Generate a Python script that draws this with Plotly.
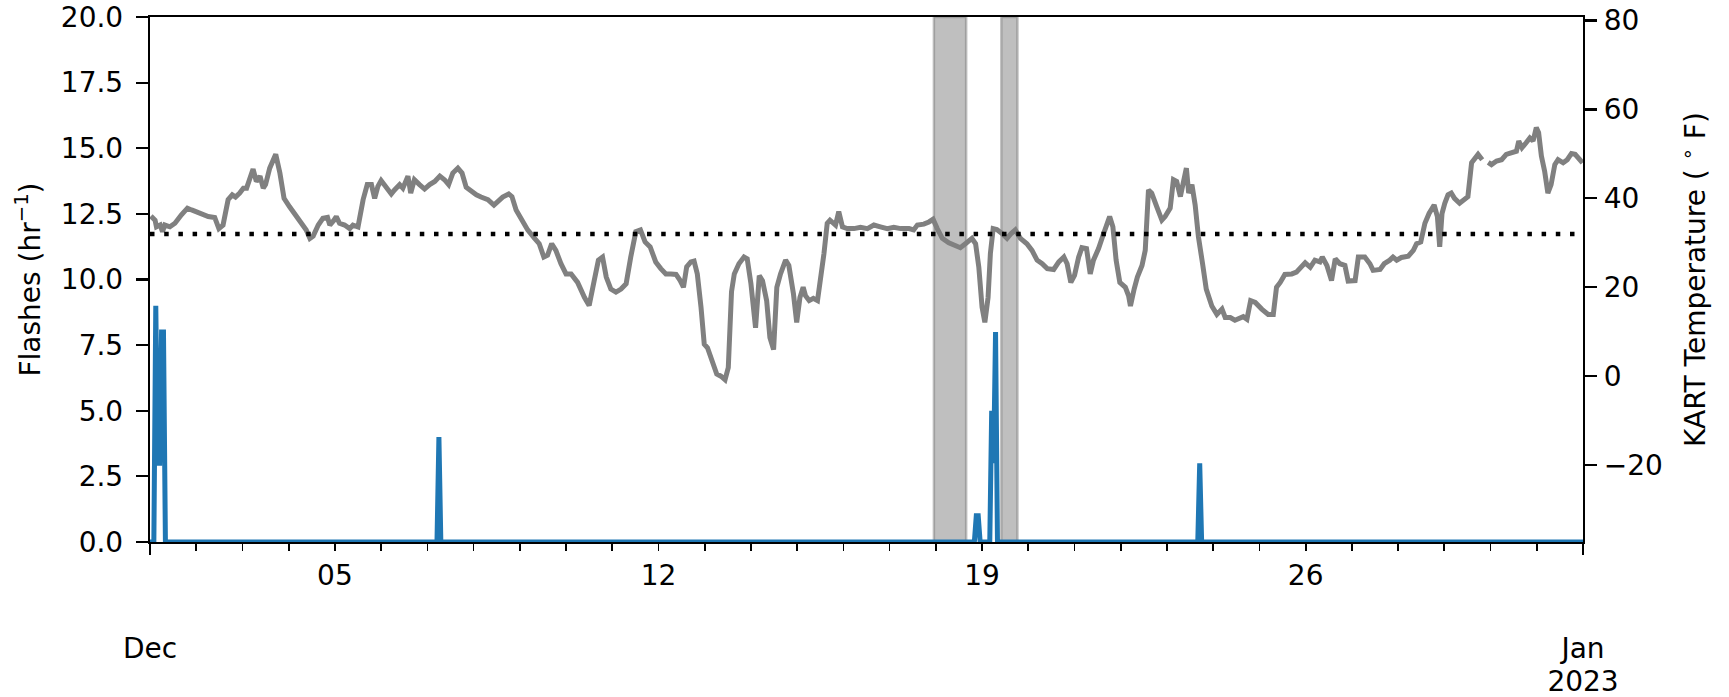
import pandas as pd
import plotly.graph_objects as go

START = pd.Timestamp("2022-12-01")
END = pd.Timestamp("2023-01-01")

# KART temperature (deg F); day = days since 2022-12-01 00:00
temp_day = [
    0.02, 0.11, 0.14, 0.22, 0.27, 0.32, 0.43, 0.54, 0.68, 0.81, 0.90, 1.01, 1.08, 1.15, 1.26, 1.40,
    1.49, 1.58, 1.69, 1.78, 1.85, 1.94, 2.02, 2.09, 2.14, 2.23, 2.30, 2.38, 2.45, 2.50, 2.59, 2.72,
    2.81, 2.90, 3.02, 3.13, 3.28, 3.38, 3.46, 3.53, 3.64, 3.74, 3.84, 3.89, 3.98, 4.03, 4.10, 4.21,
    4.32, 4.39, 4.50, 4.61, 4.70, 4.79, 4.86, 4.93, 5.00, 5.11, 5.22, 5.29, 5.40, 5.47, 5.58, 5.64,
    5.72, 5.83, 5.94, 6.05,
    6.16, 6.27, 6.37, 6.46, 6.55, 6.66, 6.75, 6.84, 6.95, 7.06, 7.16, 7.31, 7.44, 7.52, 7.63, 7.76,
    7.83, 7.92, 8.04, 8.17, 8.32, 8.42, 8.52, 8.60, 8.69, 8.78, 8.89, 9.00, 9.11, 9.25, 9.40, 9.50,
    9.61, 9.70, 9.79, 9.87, 9.97, 10.08, 10.19, 10.30, 10.40, 10.51, 10.61, 10.71, 10.82, 10.94,
    11.05, 11.16, 11.27, 11.38, 11.47, 11.54, 11.61, 11.70, 11.77, 11.84, 11.92, 11.99, 12.06,
    12.15, 12.26, 12.35, 12.44, 12.51,
    12.58, 12.64, 12.74, 12.85, 12.92, 13.00, 13.10, 13.18, 13.25, 13.34, 13.41, 13.49, 13.56,
    13.64, 13.75, 13.82, 13.92, 13.99, 14.06, 14.13, 14.18, 14.26, 14.35, 14.44, 14.51, 14.58,
    14.65, 14.71, 14.83, 14.90, 14.98, 15.08, 15.23, 15.37, 15.52, 15.66, 15.80, 15.95, 16.09,
    16.24, 16.42, 16.52, 16.60, 16.74, 16.85, 16.94, 17.03, 17.14, 17.28, 17.42, 17.53, 17.64,
    17.78, 17.86, 17.93, 18.00, 18.06, 18.13, 18.18, 18.24, 18.32, 18.43, 18.54, 18.63,
    18.72, 18.83, 18.97, 19.08, 19.19, 19.30, 19.41, 19.55, 19.66, 19.77, 19.84, 19.92, 20.00,
    20.09, 20.16, 20.26, 20.34, 20.41, 20.52, 20.63, 20.76, 20.83, 20.90, 20.98, 21.10, 21.17,
    21.21, 21.29, 21.36, 21.46, 21.53, 21.60, 21.67, 21.78, 21.89, 21.96, 22.07, 22.14, 22.21,
    22.29, 22.36, 22.42, 22.47, 22.54, 22.61, 22.68, 22.77, 22.85, 22.97, 23.08, 23.19, 23.26,
    23.37, 23.47, 23.65, 23.73, 23.81, 23.91, 24.05, 24.19, 24.30, 24.37, 24.45, 24.55, 24.70,
    24.80,
    24.99, 25.10, 25.20, 25.31, 25.36, 25.46, 25.56, 25.64, 25.74, 25.85, 25.92, 26.07, 26.14,
    26.28, 26.39, 26.46, 26.61, 26.70, 26.82, 26.89, 26.97, 27.07, 27.22, 27.33, 27.40, 27.49,
    27.58, 27.67, 27.78, 27.85, 27.90, 27.95, 28.01, 28.08, 28.15, 28.22, 28.33, 28.44, 28.51,
    28.59, 28.66, 28.73, 28.82, 28.88, 28.95, 29.02, 29.13, 29.24, 29.34, 29.45, 29.56, 29.61,
    29.68, 29.77, 29.85, 29.92, 29.99, 30.04, 30.10, 30.17, 30.24, 30.31, 30.39, 30.46, 30.57,
    30.66, 30.75, 30.83, 30.93, 30.99,
]
temp_f = [
    36.0, 35.1, 33.6, 34.0, 32.5, 34.0, 33.6, 34.4, 36.3, 37.8, 37.4, 37.0, 36.6, 36.3, 35.9, 35.7,
    33.2, 34.0, 39.7, 40.8, 40.3, 41.2, 42.3, 42.3, 44.2, 46.6, 43.8, 45.0, 42.3, 43.1, 46.8, 49.9,
    45.7, 40.0, 38.1, 36.6, 34.4, 32.9, 31.0, 31.5, 34.0, 35.5, 35.7, 34.0, 35.1, 35.9, 34.4, 34.0,
    33.2, 34.0, 33.6, 39.7, 43.1, 43.1, 40.0, 42.7, 44.0, 42.7, 41.0, 41.9, 43.1, 42.3, 45.0, 41.2,
    44.2, 43.1, 42.1, 43.1,
    43.8, 45.0, 44.2, 43.1, 45.7, 46.8, 45.7, 42.5, 41.5, 40.8, 40.3, 39.7, 38.5, 39.3, 40.3, 41.0,
    40.4, 37.4, 35.1, 32.9, 31.0, 29.8, 26.8, 27.2, 29.8, 28.3, 25.3, 23.0, 23.0, 21.1, 17.7, 15.9,
    21.5, 26.1, 26.8, 22.3, 19.6, 18.9, 19.6, 20.8, 26.8, 32.5, 32.9, 30.2, 29.1, 25.7,
    24.2, 23.0, 23.0, 22.9, 21.5, 20.0, 24.6, 25.7, 25.9, 23.0, 15.5, 7.2, 6.4,
    3.4, 0.5, 0.0, -0.8, 1.9,
    19.0, 23.0, 25.3, 26.8, 26.4, 20.8, 10.9, 22.6, 21.5, 17.0, 8.7, 6.0, 20.0,
    23.0, 26.1, 24.9, 18.5, 12.1, 17.7, 20.0, 18.1, 17.0, 17.5, 17.0, 21.5, 27.6,
    34.4, 35.1, 34.0, 37.0, 33.6, 33.2, 33.2, 33.5, 33.2, 34.0, 33.6, 33.2, 33.5,
    33.2, 33.2, 32.9, 34.0, 34.2, 34.7, 35.3, 33.2, 31.0, 30.0, 29.5, 28.9, 29.8,
    31.0, 29.8, 24.5, 15.5, 12.1, 17.7, 27.6, 33.2, 33.0, 32.1, 31.0, 32.1,
    32.9, 31.0, 29.8, 28.3, 26.1, 25.3, 24.2, 24.0, 25.7, 26.8, 25.3, 21.1, 22.7,
    26.8, 28.9, 28.7, 23.0, 26.1, 28.7, 32.1, 35.9, 33.6, 26.1, 21.1, 20.0, 18.1,
    15.8, 19.6, 22.3, 24.9, 28.3, 41.9, 41.2, 38.1, 35.1, 35.9, 37.8, 44.2, 43.8,
    40.4, 43.4, 46.8, 41.2, 43.1, 38.5, 31.4, 25.3, 19.6, 15.8, 13.9, 15.1, 13.2,
    13.2, 12.6, 13.4, 12.8, 17.0, 16.6, 15.1, 13.9, 13.9, 20.0, 21.1, 22.9, 23.0,
    23.4,
    25.5, 24.5, 26.1, 25.7, 26.8, 24.9, 21.5, 26.4, 25.3, 24.9, 21.4, 21.5, 26.8,
    26.8, 25.3, 23.8, 24.0, 25.3, 26.1, 26.8, 26.1, 26.7, 27.0, 28.3, 29.8, 30.2,
    34.4, 36.6, 38.5, 35.9, 29.1, 36.6, 38.9, 40.8, 41.2, 40.0, 38.9, 39.7, 40.4,
    48.0, 49.1, 49.9, 48.7, None, 48.1, 47.6, 48.4, 48.7, 49.9, 50.2, 50.6, 52.9,
    51.4, 52.5, 53.6, 52.9, 55.9, 54.8, 49.5, 46.1, 41.2, 43.1, 47.6, 48.7, 48.0,
    48.7, 50.1, 49.9, 48.7, 48.0,
]

# Hourly lightning flash counts; hour = hours since 2022-12-01 00:00 (all other hours are 0)
flash_hour = [0, 2, 3, 4, 5, 6, 7, 8, 149, 150, 151, 428, 429, 430, 431,
              436, 437, 438, 439, 440, 544, 545, 546, 744]
flash_count = [0, 0, 9, 3, 3, 8, 8, 0, 0, 4, 0, 0, 1, 1, 0,
               0, 5, 3, 8, 0, 0, 3, 0, 0]

# Shaded periods
shade_start = ["2022-12-17 23:00", "2022-12-19 10:00"]
shade_end = ["2022-12-18 15:45", "2022-12-19 18:22"]

freeze_f = 32

day_ticks = ["2022-12-05", "2022-12-12", "2022-12-19", "2022-12-26"]
day_labels = ["05", "12", "19", "26"]
month_ticks = ["2022-12-01", "2023-01-01"]
month_labels = ["Dec", "Jan"]
year_ticks = ["2023-01-01"]
year_labels = ["2023"]
flash_ticks = [0, 2.5, 5, 7.5, 10, 12.5, 15, 17.5, 20]
temp_ticks = [-20, 0, 20, 40, 60, 80]

temp_x = [START + pd.Timedelta(days=d) for d in temp_day]
flash_x = [START + pd.Timedelta(hours=h) for h in flash_hour]

FONT = "DejaVu Sans"
FS = 28

fig = go.Figure()
fig.add_trace(go.Scatter(x=flash_x, y=flash_count, mode="lines",
                         line=dict(color="#1f77b4", width=5), xaxis="x", yaxis="y",
                         showlegend=False, hoverinfo="skip"))
fig.add_trace(go.Scatter(x=temp_x, y=temp_f, mode="lines", connectgaps=False,
                         line=dict(color="#808080", width=5), xaxis="x", yaxis="y2",
                         showlegend=False, hoverinfo="skip"))
# carrier traces so the month / year label axes are drawn
fig.add_trace(go.Scatter(x=[START], y=[None], mode="lines", xaxis="x2", yaxis="y",
                         showlegend=False, hoverinfo="skip"))
fig.add_trace(go.Scatter(x=[START], y=[None], mode="lines", xaxis="x3", yaxis="y",
                         showlegend=False, hoverinfo="skip"))

shapes = []
for s, e in zip(shade_start, shade_end):
    shapes.append(dict(type="rect", xref="x", yref="paper", x0=s, x1=e, y0=0, y1=1,
                       fillcolor="rgba(128,128,128,0.5)",
                       line=dict(color="rgba(128,128,128,0.5)", width=2.5), layer="below"))
shapes.append(dict(type="line", xref="paper", x0=0, x1=1, yref="y2", y0=freeze_f, y1=freeze_f,
                   line=dict(color="black", width=4.5, dash="4.5px,9.7px")))

fig.update_layout(
    template="none",
    width=1729, height=697,
    # plot area at x 150-1583, y 17-542 (page body margin removed below)
    margin=dict(l=150, r=146, t=17, b=155, pad=0),
    paper_bgcolor="white", plot_bgcolor="white",
    font=dict(family=FONT, size=FS, color="black"),
    showlegend=False,
    hovermode=False,
    shapes=shapes,
    xaxis=dict(
        type="date", range=[START, END], tickmode="array", tickvals=day_ticks, ticktext=day_labels,
        ticks="outside", ticklen=7, tickwidth=1.7, tickcolor="black",
        showline=True, linecolor="black", linewidth=2.2, mirror=True,
        showgrid=False, zeroline=False, ticklabelstandoff=0, automargin=False,
        ticklabeloverflow="allow",
        minor=dict(ticks="outside", dtick=86400000, tick0="2022-12-01", ticklen=7,
                   tickwidth=1.7, tickcolor="black", showgrid=False),
    ),
    xaxis2=dict(
        type="date", range=[START, END], overlaying="x", anchor="y", side="bottom",
        tickmode="array", tickvals=month_ticks, ticktext=month_labels,
        ticks="outside", ticklen=12, tickwidth=2.2, tickcolor="black",
        showline=False, showgrid=False, zeroline=False, ticklabelstandoff=69,
        automargin=False, ticklabeloverflow="allow",
    ),
    xaxis3=dict(
        type="date", range=[START, END], overlaying="x", anchor="y", side="bottom",
        tickmode="array", tickvals=year_ticks, ticktext=year_labels,
        ticks="outside", ticklen=12, tickwidth=2.2, tickcolor="rgba(0,0,0,0)",
        showline=False, showgrid=False, zeroline=False, ticklabelstandoff=102,
        automargin=False, ticklabeloverflow="allow",
    ),
    yaxis=dict(
        range=[0, 20], tickmode="array", tickvals=flash_ticks, tickformat=".1f",
        ticks="outside", ticklen=12, tickwidth=2.2, tickcolor="black",
        showline=True, linecolor="black", linewidth=2.2, showgrid=False, zeroline=False,
        ticklabelstandoff=7, automargin=False, ticklabeloverflow="allow",
        title=dict(text="Flashes (hr<sup>−1</sup>)", font=dict(size=FS), standoff=12),
    ),
    yaxis2=dict(
        range=[-37.3, 80.8], overlaying="y", side="right", anchor="x",
        tickmode="array", tickvals=temp_ticks,
        ticks="outside", ticklen=12, tickwidth=2.2, tickcolor="black",
        showline=True, linecolor="black", linewidth=2.2, showgrid=False, zeroline=False,
        ticklabelstandoff=1, automargin=False, ticklabeloverflow="allow",
        title=dict(text="KART Temperature ( <sup>∘</sup> F)", font=dict(size=FS), standoff=24),
    ),
)

fig.write_html("out.html", config={"displayModeBar": False, "staticPlot": True},
               post_script="document.body.style.margin='0px';document.body.style.overflow='hidden';")
